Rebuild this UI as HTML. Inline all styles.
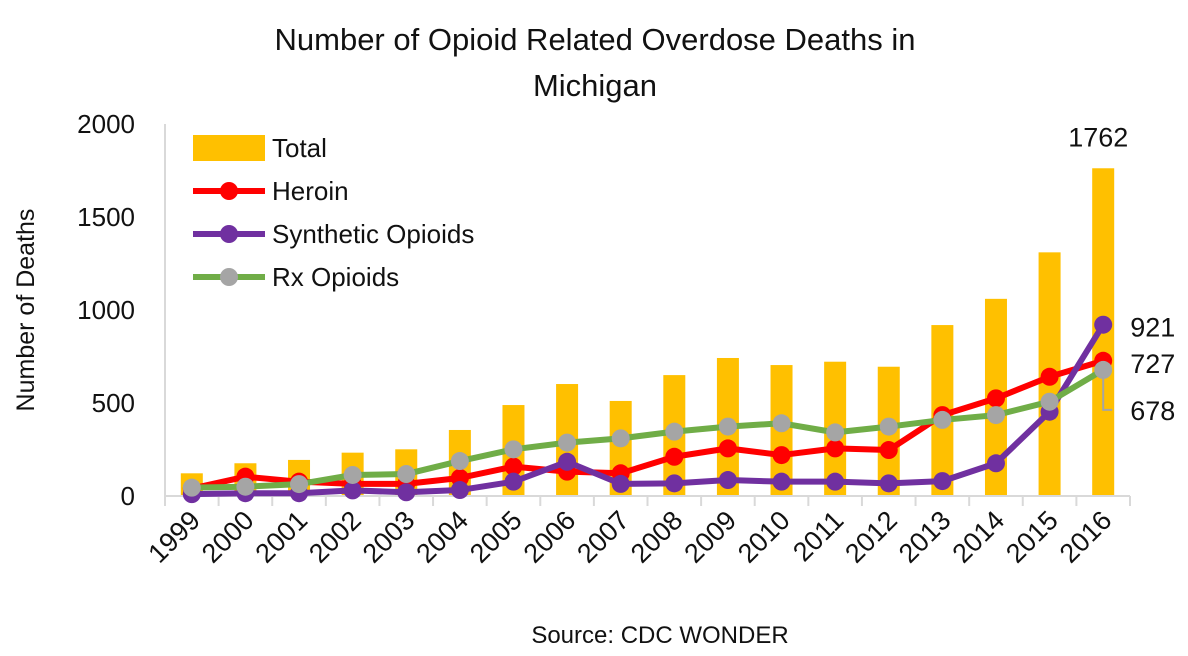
<!DOCTYPE html>
<html><head><meta charset="utf-8"><style>
body{margin:0;background:#fff;}
svg text{font-family:"Liberation Sans",sans-serif;fill:#111;}
</style></head><body>
<svg id="c" width="1188" height="651">
<text x="595" y="50" font-size="31" text-anchor="middle">Number of Opioid Related Overdose Deaths in</text>
<text x="595" y="96" font-size="31" text-anchor="middle">Michigan</text>
<text transform="translate(34,310) rotate(-90)" font-size="25" text-anchor="middle">Number of Deaths</text>
<text x="660" y="643" font-size="24" text-anchor="middle">Source: CDC WONDER</text>
<g id="g"></g>
</svg>
<script>
const years=["1999","2000","2001","2002","2003","2004","2005","2006","2007","2008","2009","2010","2011","2012","2013","2014","2015","2016"];
const total=[122,176,194,233,251,355,489,602,511,650,742,704,722,695,919,1060,1310,1762];
const heroin=[40,104,77,65,65,97,158,131,122,211,256,220,256,247,435,525,641,727];
const synthetic=[10,15,15,30,20,32,77,184,65,68,86,77,77,68,80,176,453,921];
const rx=[45,50,64,113,118,188,251,287,310,346,373,391,342,373,409,435,507,678];
const yTicks=[0,500,1000,1500,2000];
const NS="http://www.w3.org/2000/svg";
const g=document.getElementById('g');
const L=165,R=1130,B=496,T=124;
const step=(R-L)/years.length;
const xs=i=>L+step*(i+0.5);
const ys=v=>B-(B-T)*v/2000;
function mk(t,a){const e=document.createElementNS(NS,t);for(const k in a)e.setAttribute(k,a[k]);g.appendChild(e);return e;}
yTicks.forEach(v=>{const t=mk('text',{x:135,y:ys(v)+9,'font-size':26,'text-anchor':'end'});t.textContent=v;

});
mk('line',{x1:L,y1:T,x2:L,y2:B,stroke:'#d9d9d9','stroke-width':2});
total.forEach((v,i)=>{const r=mk('rect',{x:xs(i)-11,y:ys(v),width:22,height:B-ys(v),fill:'#ffc000'});

});
mk('line',{x1:L,y1:B,x2:R,y2:B,stroke:'#d9d9d9','stroke-width':2});
for(let i=0;i<=years.length;i++){mk('line',{x1:L+step*i,y1:B,x2:L+step*i,y2:B+10,stroke:'#d9d9d9','stroke-width':2});}
years.forEach((y,i)=>{const t=mk('text',{transform:`translate(${xs(i)+10},${B+26}) rotate(-45)`,'font-size':27,'text-anchor':'end'});t.textContent=y;

});
function series(d,lc,mc,name){
mk('polyline',{points:d.map((v,i)=>xs(i)+','+ys(v)).join(' '),fill:'none',stroke:lc,'stroke-width':6,'stroke-linejoin':'round'});
d.forEach((v,i)=>{const c=mk('circle',{cx:xs(i),cy:ys(v),r:9,fill:mc});

});}
series(heroin,'#ff0000','#ff0000','heroin');
series(synthetic,'#7030a0','#7030a0','synthetic');
series(rx,'#70ad47','#a5a5a5','rx');
const n=years.length-1;
function lab(txt,x,y,name){const t=mk('text',{x:x,y:y,'font-size':27});t.textContent=txt;

}
lab(total[n],xs(n)-35,ys(total[n])-22,'label-total-2016');
lab(synthetic[n],xs(n)+27,ys(synthetic[n])+12,'label-synthetic-2016');
lab(heroin[n],xs(n)+27,ys(heroin[n])+12,'label-heroin-2016');
mk('polyline',{points:`${xs(n)},${ys(rx[n])+8} ${xs(n)},${ys(rx[n])+40} ${xs(n)+9},${ys(rx[n])+40}`,fill:'none',stroke:'#a5a5a5','stroke-width':2});
lab(rx[n],xs(n)+27,ys(rx[n])+50,'label-rx-2016');
const lg=[['Total','bar'],['Heroin','#ff0000','#ff0000'],['Synthetic Opioids','#7030a0','#7030a0'],['Rx Opioids','#70ad47','#a5a5a5']];
lg.forEach((e,i)=>{const y=148+i*43;
if(e[1]==='bar'){mk('rect',{x:193,y:y-13,width:72,height:26,fill:'#ffc000'});}
else{mk('line',{x1:193,y1:y,x2:265,y2:y,stroke:e[1],'stroke-width':6});mk('circle',{cx:229,cy:y,r:9,fill:e[2]});}
const t=mk('text',{x:272,y:y+9,'font-size':26});t.textContent=e[0];

});
</script>
</body></html>
